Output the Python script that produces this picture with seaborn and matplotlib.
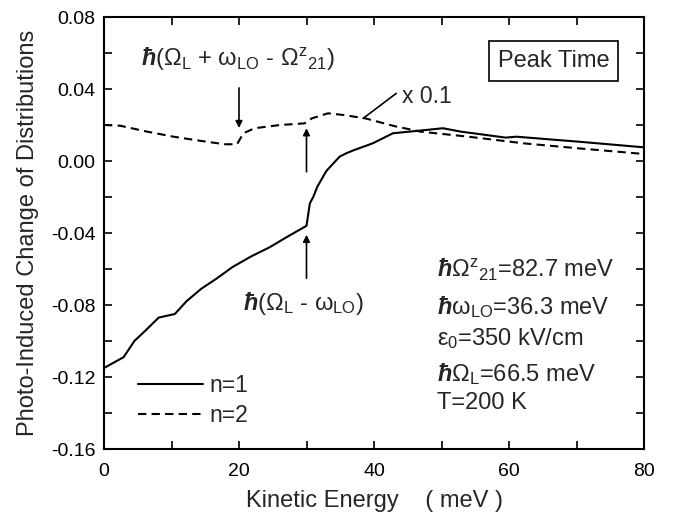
import matplotlib
matplotlib.use("Agg")
import matplotlib.pyplot as plt
import seaborn as sns
import pandas as pd
import numpy as np

# n=1 (solid)
n1_energy = [0.0, 2.9, 4.5, 6.2, 8.1, 10.5, 12.2, 14.4, 16.8, 19.0, 21.8, 24.5, 27.2, 30.0,
             30.5, 31.0, 31.6, 32.95, 34.9, 35.9, 37.0, 39.8, 42.8, 46.3, 50.2, 52.9,
             59.5, 61.1, 70.4, 80.0]
n1_change = [-0.115, -0.109, -0.100, -0.094, -0.087, -0.085, -0.078, -0.071, -0.065, -0.059,
             -0.053, -0.048, -0.042, -0.036, -0.0235, -0.0200, -0.0143, -0.0055, 0.0024,
             0.0043, 0.0060, 0.0098, 0.0154, 0.0167, 0.0182, 0.0163, 0.0130, 0.0135,
             0.0107, 0.0076]
# n=2 (dashed, shown x 0.1)
n2_energy = [0.0, 2.4, 6.4, 10.3, 14.1, 17.9, 19.7, 20.65, 22.3, 26.1, 29.7, 30.8, 33.2,
             35.4, 38.7, 43.0, 46.9, 54.0, 62.2, 70.4, 80.0]
n2_change = [0.0200, 0.0196, 0.0163, 0.0135, 0.0113, 0.0093, 0.0093, 0.0154, 0.0182,
             0.0200, 0.0209, 0.0237, 0.0265, 0.0256, 0.0237, 0.0194, 0.0163, 0.0135,
             0.0098, 0.0070, 0.0039]

x_ticks = [0, 20, 40, 60, 80]
y_ticks = [-0.16, -0.12, -0.08, -0.04, 0.00, 0.04, 0.08]
HB = r"\mathit{\hbar}"
params = [rf"${HB}\Omega^{{\rm z}}{{}}_{{21}}$=82.7 meV",
          rf"${HB}\omega_{{\rm LO}}$=36.3 meV",
          r"$\varepsilon_{0}$=350 kV/cm",
          rf"${HB}\Omega_{{\rm L}}$=66.5 meV",
          "T=200 K"]

sns.set_style("ticks")
plt.rcParams["font.family"] = ["Liberation Sans", "DejaVu Sans"]
plt.rcParams["mathtext.fontset"] = "custom"
plt.rcParams["mathtext.rm"] = "Liberation Sans"
plt.rcParams["mathtext.it"] = "Liberation Sans:italic:bold"
plt.rcParams["mathtext.sf"] = "Liberation Sans"
plt.rcParams["mathtext.default"] = "rm"
plt.rcParams["mathtext.fallback"] = "cm"
plt.rcParams["axes.unicode_minus"] = False

df = pd.concat([
    pd.DataFrame({"E": n1_energy, "v": n1_change, "s": "n=1"}),
    pd.DataFrame({"E": n2_energy, "v": n2_change, "s": "n=2"}),
])

fig = plt.figure(figsize=(6.77, 5.21), dpi=100)
ax = fig.add_axes([104/677, 1-449/521, 540/677, 432/521])

sns.lineplot(data=df[df.s == "n=1"], x="E", y="v", ax=ax, color="black", lw=1.5,
             label="n=1", sort=False)
sns.lineplot(data=df[df.s == "n=2"], x="E", y="v", ax=ax, color="black", lw=1.5,
             label="n=2", sort=False)
ax.lines[1].set_linestyle((0, (4, 2.5)))

ax.set_xlim(0, 80)
ax.set_ylim(-0.16, 0.08)
ax.set_xticks(x_ticks)
ax.set_xticks(np.arange(0, 81, 10), minor=True)
ax.set_yticks(y_ticks)
ax.set_yticks(np.arange(-0.16, 0.081, 0.02), minor=True)
ax.set_yticklabels([f"{t:.2f}" for t in y_ticks])
ax.tick_params(which="both", direction="in", top=True, right=True, length=6, width=1.2,
               labelsize=14, colors="black")
ax.tick_params(axis="x", pad=10)
ax.tick_params(axis="y", pad=6)
for sp in ax.spines.values():
    sp.set_linewidth(1.5)
    sp.set_color("black")
ax.set_xlabel("Kinetic Energy    ( meV )", fontsize=17, labelpad=7)
ax.set_ylabel("Photo-Induced Change of Distributions", fontsize=17, labelpad=9)

leg = ax.legend(loc="lower left", bbox_to_anchor=(0.063, 0.052), frameon=False, fontsize=16.5,
                handlelength=2.85, handletextpad=0.26, labelspacing=0.3,
                borderpad=0, borderaxespad=0)

arrow = dict(arrowstyle="-|>", color="black", lw=1.2, mutation_scale=10, shrinkA=0, shrinkB=0)
ax.annotate("", xy=(20, 0.0183), xytext=(20, 0.0406), arrowprops=arrow)
ax.annotate("", xy=(30, 0.0182), xytext=(30, -0.006), arrowprops=arrow)
ax.annotate("", xy=(30, -0.041), xytext=(30, -0.0652), arrowprops=arrow)
ax.annotate("", xy=(38.4, 0.0237), xytext=(43.3, 0.0376),
            arrowprops=dict(arrowstyle="-", color="black", lw=1.2, shrinkA=0, shrinkB=0))

ax.text(19.8, 0.0565,
        rf"${HB}(\Omega_{{\rm L}}$ + $\omega_{{\rm LO}}$ - $\Omega^{{\rm z}}{{}}_{{21}})$",
        fontsize=17, ha="center", va="center")
ax.text(29.5, -0.0789, rf"${HB}(\Omega_{{\rm L}}$ - $\omega_{{\rm LO}})$", fontsize=17,
        ha="center", va="center")
ax.text(44.1, 0.036, "x 0.1", fontsize=16.5, ha="left", va="center")
ax.text(66.6, 0.0555, "Peak Time", fontsize=17, ha="center", va="center",
        bbox=dict(boxstyle="square,pad=0.38", fc="white", ec="black", lw=1.2))

baselines = [-0.0644, -0.085, -0.1022, -0.1222, -0.1378]
for s, yb in zip(params, baselines):
    ax.text(49.3, yb, s, fontsize=17, ha="left", va="baseline")

fig.savefig("out.png", dpi=100)
